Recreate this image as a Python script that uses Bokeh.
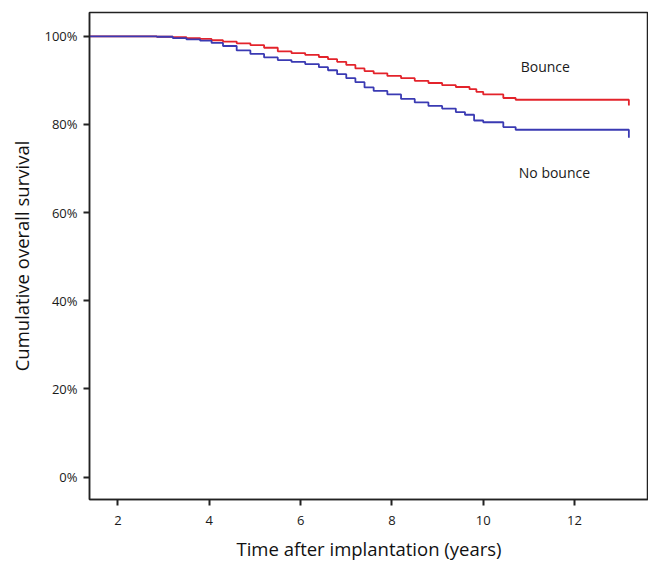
from bokeh.plotting import figure
from bokeh.models import Range1d, FixedTicker, ColumnDataSource
from bokeh.core.properties import value
from bokeh.embed import file_html
from bokeh.resources import INLINE

# Kaplan-Meier style step data (time in years, survival in %)
bounce_t = [0.0, 2.85, 3.2, 3.5, 3.8, 4.05, 4.3, 4.6, 4.9, 5.2, 5.5, 5.8, 6.1, 6.4, 6.6, 6.8,
            7.0, 7.2, 7.4, 7.6, 7.9, 8.2, 8.5, 8.8, 9.1, 9.4, 9.7, 9.85, 10.0, 10.44, 10.71, 13.19, 13.19]
bounce_s = [100.0, 99.9, 99.8, 99.6, 99.4, 99.1, 98.8, 98.4, 98.0, 97.4, 96.6, 96.2, 95.8, 95.3, 94.8, 94.2,
            93.5, 92.7, 92.1, 91.6, 91.0, 90.5, 89.9, 89.4, 88.9, 88.5, 88.0, 87.4, 86.8, 86.0, 85.6, 85.6, 84.3]

nobounce_t = [0.0, 2.85, 3.2, 3.5, 3.8, 4.05, 4.3, 4.6, 4.9, 5.2, 5.5, 5.8, 6.1, 6.4, 6.6, 6.8,
              7.0, 7.2, 7.4, 7.6, 7.9, 8.2, 8.5, 8.8, 9.1, 9.4, 9.6, 9.8, 10.0, 10.44, 10.71, 13.19, 13.19]
nobounce_s = [100.0, 99.9, 99.6, 99.3, 99.0, 98.5, 97.8, 96.8, 96.0, 95.2, 94.6, 94.2, 93.7, 93.0, 92.3, 91.4,
              90.5, 89.6, 88.4, 87.6, 86.8, 85.8, 85.0, 84.2, 83.6, 82.8, 82.2, 80.9, 80.5, 79.4, 78.8, 78.8, 77.0]

x_ticks = [2, 4, 6, 8, 10, 12]
y_ticks = [0, 20, 40, 60, 80, 100]
y_tick_labels = {0: "0%", 20: "20%", 40: "40%", 60: "60%", 80: "80%", 100: "100%"}

label_names = ["Bounce", "No bounce"]
label_x = [11.36, 11.56]
label_y = [93.1, 69.1]

FONT = "Open Sans"

p = figure(width=648, height=567, output_backend="svg", toolbar_location=None,
           x_range=Range1d(1.376, 13.62), y_range=Range1d(-5.1, 105.4),
           min_border_left=89, min_border_right=0, min_border_top=12, min_border_bottom=68)

p.grid.visible = False
p.background_fill_color = "white"
p.border_fill_color = "white"
p.outline_line_color = "#222222"
p.outline_line_width = 1.5

p.step(bounce_t, bounce_s, mode="after", line_color="#e3232b", line_width=1.8)
p.step(nobounce_t, nobounce_s, mode="after", line_color="#3a3ab3", line_width=1.8)

src = ColumnDataSource(dict(x=label_x, y=label_y, t=label_names))
p.text(x="x", y="y", text="t", source=src, text_font=value(FONT), text_font_size="14px",
       text_color="#1a1a1a", text_align="center", text_baseline="middle")

for ax in (p.xaxis[0], p.yaxis[0]):
    ax.axis_line_color = "#222222"
    ax.axis_line_width = 1.5
    ax.major_tick_line_color = "#222222"
    ax.major_tick_line_width = 2
    ax.major_tick_out = 6
    ax.major_tick_in = 0
    ax.minor_tick_line_color = None
    ax.major_label_text_font = FONT
    ax.major_label_text_font_size = "13px"
    ax.major_label_text_color = "#1a1a1a"
    ax.axis_label_text_font = FONT
    ax.axis_label_text_font_size = "18.5px"
    ax.axis_label_text_font_style = "normal"
    ax.axis_label_text_color = "#111111"

p.xaxis.ticker = FixedTicker(ticks=x_ticks)
p.yaxis.ticker = FixedTicker(ticks=y_ticks)
p.yaxis.major_label_overrides = y_tick_labels
p.xaxis.axis_label = "Time after implantation (years)"
p.yaxis.axis_label = "Cumulative overall survival"
p.xaxis.major_label_standoff = 10
p.yaxis.major_label_standoff = 6
p.xaxis.axis_label_standoff = 8
p.yaxis.axis_label_standoff = 7

open("out.html", "w").write(file_html(p, INLINE))
